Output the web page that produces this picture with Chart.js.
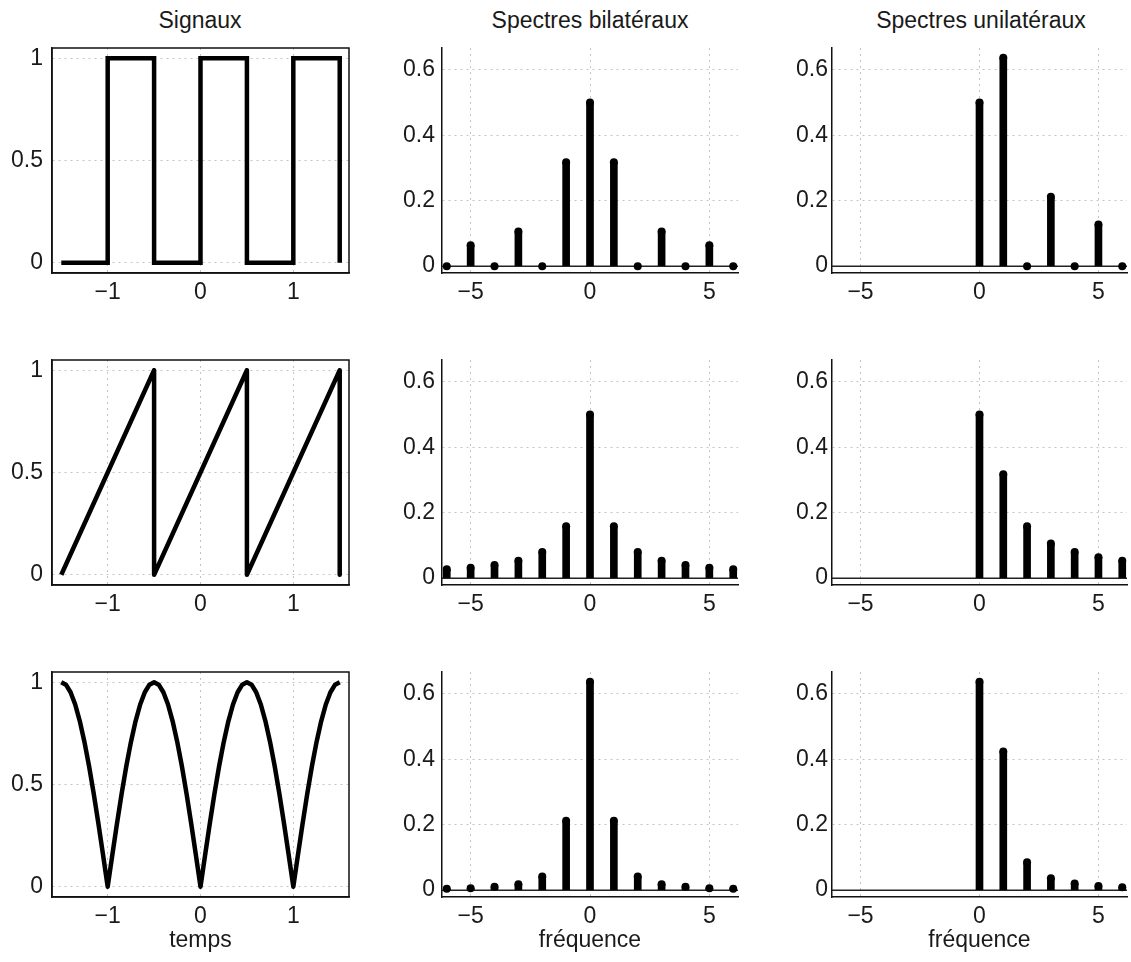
<!DOCTYPE html>
<html>
<head>
<meta charset="utf-8">
<script src="https://cdn.jsdelivr.net/npm/chart.js@4.4.1/dist/chart.umd.min.js"></script>
<style>
  body { margin: 0; background: #fff; width: 1131px; height: 962px; position: relative; overflow: hidden;
         font-family: "Liberation Sans", Arial, sans-serif; }
  .panel { position: absolute; }
  .ttl { position: absolute; width: 300px; font-size: 23px; color: #1a1a1a; text-align: center; line-height: 26px; }
</style>
</head>
<body>
<script>
// --- data ---
const colTitles = ['Signaux', 'Spectres bilatéraux', 'Spectres unilatéraux'];
const xTitles = ['temps', 'fréquence', 'fréquence'];

const sigXTicks = [-1, 0, 1];
const sigYTicks = [0, 0.5, 1];
const specXTicks = [-5, 0, 5];
const specYTicks = [0, 0.2, 0.4, 0.6];

// signal 1 : carré
const squareT = [-1.5, -1, -1, -0.5, -0.5, 0, 0, 0.5, 0.5, 1, 1, 1.5, 1.5];
const squareY = [0, 0, 1, 1, 0, 0, 1, 1, 0, 0, 1, 1, 0];
// signal 2 : dent de scie
const sawT = [-1.5, -0.5, -0.5, 0.5, 0.5, 1.5, 1.5];
const sawY = [0, 1, 0, 1, 0, 1, 0];
// signal 3 : sinus redressé
const rectT = [-1.5, -1.45, -1.4, -1.35, -1.3, -1.25, -1.2, -1.15, -1.1, -1.05, -1,
  -0.95, -0.9, -0.85, -0.8, -0.75, -0.7, -0.65, -0.6, -0.55, -0.5,
  -0.45, -0.4, -0.35, -0.3, -0.25, -0.2, -0.15, -0.1, -0.05, 0,
  0.05, 0.1, 0.15, 0.2, 0.25, 0.3, 0.35, 0.4, 0.45, 0.5,
  0.55, 0.6, 0.65, 0.7, 0.75, 0.8, 0.85, 0.9, 0.95, 1,
  1.05, 1.1, 1.15, 1.2, 1.25, 1.3, 1.35, 1.4, 1.45, 1.5];
const rectY = [1, 0.988, 0.951, 0.891, 0.809, 0.707, 0.588, 0.454, 0.309, 0.156, 0,
  0.156, 0.309, 0.454, 0.588, 0.707, 0.809, 0.891, 0.951, 0.988, 1,
  0.988, 0.951, 0.891, 0.809, 0.707, 0.588, 0.454, 0.309, 0.156, 0,
  0.156, 0.309, 0.454, 0.588, 0.707, 0.809, 0.891, 0.951, 0.988, 1,
  0.988, 0.951, 0.891, 0.809, 0.707, 0.588, 0.454, 0.309, 0.156, 0,
  0.156, 0.309, 0.454, 0.588, 0.707, 0.809, 0.891, 0.951, 0.988, 1];

const freqBi = [-6, -5, -4, -3, -2, -1, 0, 1, 2, 3, 4, 5, 6];
const freqUni = [0, 1, 2, 3, 4, 5, 6];

const squareBi = [0, 0.064, 0, 0.106, 0, 0.318, 0.5, 0.318, 0, 0.106, 0, 0.064, 0];
const squareUni = [0.5, 0.637, 0, 0.212, 0, 0.127, 0];
const sawBi = [0.027, 0.032, 0.040, 0.053, 0.080, 0.159, 0.5, 0.159, 0.080, 0.053, 0.040, 0.032, 0.027];
const sawUni = [0.5, 0.318, 0.159, 0.106, 0.080, 0.064, 0.053];
const rectBi = [0.004, 0.006, 0.010, 0.018, 0.042, 0.212, 0.637, 0.212, 0.042, 0.018, 0.010, 0.006, 0.004];
const rectUni = [0.637, 0.424, 0.085, 0.036, 0.020, 0.013, 0.009];

const rows = [
  { t: squareT, y: squareY, bi: squareBi, uni: squareUni, join: 'miter' },
  { t: sawT, y: sawY, bi: sawBi, uni: sawUni, join: 'round' },
  { t: rectT, y: rectY, bi: rectBi, uni: rectUni, join: 'round' }
];

// --- layout ---
const FONT = { family: '"Liberation Sans", Arial, sans-serif', size: 23 };
const TXT = '#1a1a1a';
const cols = [
  { left: 0,   width: 362, yw: 52, pad: 9, padR: 13 },
  { left: 380, width: 366, yw: 62, pad: 7, padR: 8 },
  { left: 760, width: 371, yw: 72, pad: 4, padR: 2 }
];
const ROW_STEP = 312;
const HX = 68;

const fmt = v => String(v).replace('-', '\u2212');
const pts = (xs, ys) => xs.map((x, i) => ({ x: x, y: ys[i] }));

const framePlugin = {
  id: 'frame',
  afterDraw(chart) {
    if (!chart.options.plugins.frame.show) return;
    const a = chart.chartArea, c = chart.ctx;
    c.save();
    c.strokeStyle = '#111';
    c.lineWidth = 1.5;
    c.strokeRect(a.left, a.top, a.right - a.left, a.bottom - a.top);
    c.restore();
  }
};

// no automatic label padding: the plot box is fixed by the layout padding
const noPad = s => { s.paddingTop = 0; s.paddingBottom = 0; s.paddingLeft = 0; s.paddingRight = 0; };

function axes(xr, yr, xt, yt, col, row) {
  return {
    x: {
      type: 'linear', min: xr[0], max: xr[1], offset: false,
      afterBuildTicks: s => { s.ticks = xt.map(v => ({ value: v })); },
      afterFit: s => { s.height = HX; noPad(s); },
      grid: { color: '#c4c4c4', lineWidth: 1, drawTicks: false, offset: false },
      border: { display: true, color: '#111', width: 1.5, dash: [2, 4] },
      ticks: { padding: 6, color: TXT, font: FONT, maxRotation: 0, autoSkip: false, callback: fmt },
      title: { display: row === 2, text: xTitles[col], color: TXT, font: FONT, padding: { top: 0, bottom: 11 } }
    },
    y: {
      type: 'linear', min: yr[0], max: yr[1],
      afterBuildTicks: s => { s.ticks = yt.map(v => ({ value: v })); },
      afterFit: s => { s.width = cols[col].yw; noPad(s); },
      grid: { color: '#c4c4c4', lineWidth: 1, drawTicks: false },
      border: { display: true, color: '#111', width: 1.5, dash: [2, 4] },
      ticks: { padding: cols[col].pad, color: TXT, font: FONT, callback: fmt }
    }
  };
}

function addCanvas(col, row) {
  const d = document.createElement('div');
  d.className = 'panel';
  d.style.left = cols[col].left + 'px';
  d.style.top = (40 + row * ROW_STEP) + 'px';
  const cv = document.createElement('canvas');
  cv.width = cols[col].width;
  cv.height = 233 + HX;
  cv.style.width = cv.width + 'px';
  cv.style.height = cv.height + 'px';
  d.appendChild(cv);
  document.body.appendChild(d);
  return cv;
}

function baseOpts(col, row, scales, frame) {
  return {
    responsive: false, animation: false, devicePixelRatio: 1,
    layout: { padding: { top: 8, right: cols[col].padR, bottom: 0, left: 0 } },
    plugins: { legend: { display: false }, tooltip: { enabled: false }, frame: { show: frame } },
    scales: scales
  };
}

function stemChart(col, row, freqs, amps) {
  const xr = [-6.2, 6.2];
  new Chart(addCanvas(col, row), {
    type: 'bar',
    data: {
      datasets: [
        { type: 'line', data: [{ x: xr[0], y: 0 }, { x: xr[1], y: 0 }], borderColor: '#222', borderWidth: 1.5,
          pointRadius: 0, order: 3 },
        { type: 'bar', data: pts(freqs, amps), backgroundColor: '#000', barThickness: 7, order: 2 },
        { type: 'line', data: pts(freqs, amps), showLine: false, pointRadius: 4, pointBorderWidth: 0,
          pointBackgroundColor: '#000', order: 1 }
      ]
    },
    options: baseOpts(col, row, axes(xr, [-0.021, 0.667], specXTicks, specYTicks, col, row), false),
    plugins: [framePlugin]
  });
}

rows.forEach((r, row) => {
  new Chart(addCanvas(0, row), {
    type: 'scatter',
    data: {
      datasets: [{ data: pts(r.t, r.y), showLine: true, borderColor: '#000', borderWidth: 4.5,
        borderJoinStyle: r.join, tension: 0, pointRadius: 0 }]
    },
    options: baseOpts(0, row, axes([-1.6, 1.6], [-0.05, 1.05], sigXTicks, sigYTicks, 0, row), true),
    plugins: [framePlugin]
  });
  stemChart(1, row, freqBi, r.bi);
  stemChart(2, row, freqUni, r.uni);
});

// titres de colonnes
[200, 590, 981].forEach((cx, i) => {
  const t = document.createElement('div');
  t.className = 'ttl';
  t.style.left = (cx - 150) + 'px';
  t.style.top = '7px';
  t.textContent = colTitles[i];
  document.body.appendChild(t);
});
</script>
</body>
</html>
